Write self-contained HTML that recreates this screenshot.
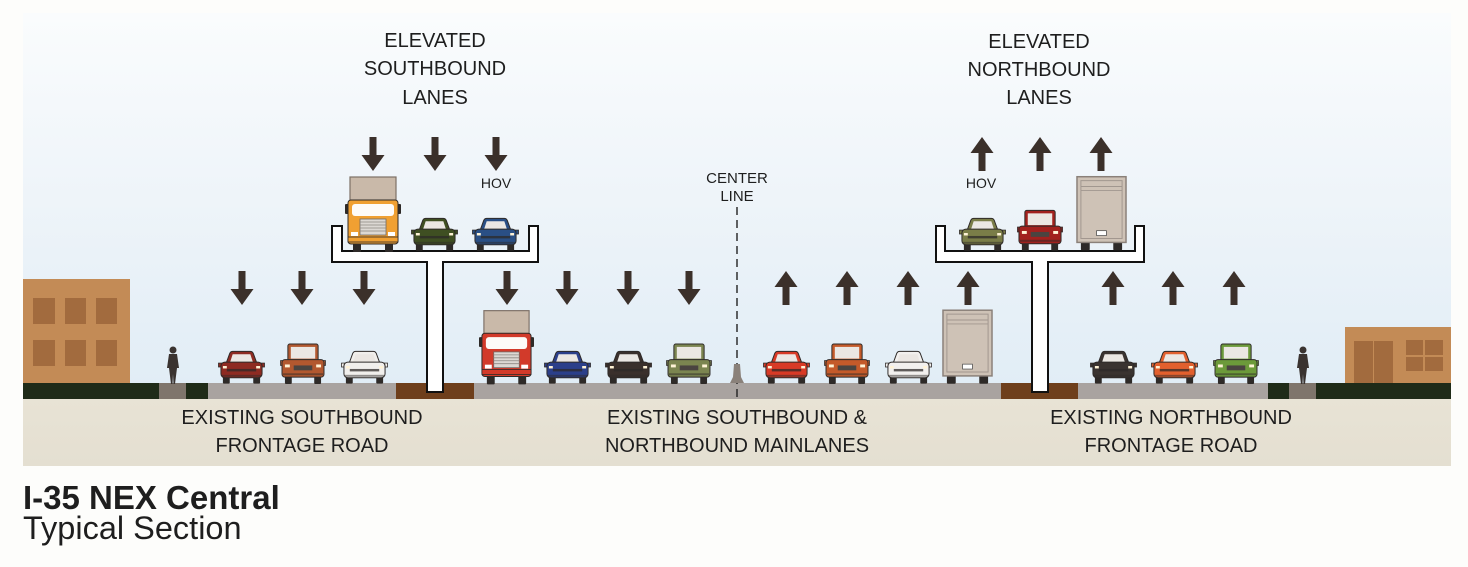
<!DOCTYPE html>
<html><head><meta charset="utf-8"><style>
html,body{margin:0;padding:0;background:#fdfdfb;}
svg{display:block;}
text{font-family:"Liberation Sans",Arial,sans-serif;fill:#1e1e1e;}
</style></head><body>
<svg width="1468" height="567" viewBox="0 0 1468 567" xmlns="http://www.w3.org/2000/svg">
<defs>
<linearGradient id="sky" x1="0" y1="0" x2="0" y2="1">
<stop offset="0" stop-color="#fafcfd"/>
<stop offset="0.5" stop-color="#eef4f9"/>
<stop offset="1" stop-color="#e1edf6"/>
</linearGradient>
<linearGradient id="earth" x1="0" y1="0" x2="0" y2="1">
<stop offset="0" stop-color="#e8e3d5"/>
<stop offset="1" stop-color="#e4dfd1"/>
</linearGradient>
<symbol id="car" viewBox="0 0 48 34">
<rect x="5" y="25" width="7" height="9" rx="1" fill="#2e2a28"/>
<rect x="36" y="25" width="7" height="9" rx="1" fill="#2e2a28"/>
<path d="M8 14 L12 3 Q13 1 15 1 L33 1 Q35 1 36 3 L40 14 Z" fill="currentColor" stroke="#2e2a28" stroke-width="1"/>
<path d="M12 13 L15 4 L33 4 L36 13 Z" fill="#ebe7e3"/>
<rect x="0.5" y="13" width="5" height="4" fill="currentColor" stroke="#2e2a28" stroke-width=".8"/>
<rect x="42.5" y="13" width="5" height="4" fill="currentColor" stroke="#2e2a28" stroke-width=".8"/>
<rect x="3" y="12" width="42" height="16" rx="4" fill="currentColor" stroke="#2e2a28" stroke-width="1"/>
<rect x="9" y="19" width="30" height="2.5" fill="#2e2a28" opacity=".75"/>
<rect x="5" y="16" width="4" height="2.5" fill="#fff3d6"/>
<rect x="39" y="16" width="4" height="2.5" fill="#fff3d6"/>
<rect x="4" y="25" width="40" height="2" fill="#2e2a28" opacity=".5"/>
</symbol>
<symbol id="pickup" viewBox="0 0 47 42">
<rect x="5" y="33" width="7" height="9" rx="1" fill="#2e2a28"/>
<rect x="35" y="33" width="7" height="9" rx="1" fill="#2e2a28"/>
<rect x="8" y="1" width="31" height="18" rx="2" fill="currentColor" stroke="#2e2a28" stroke-width="1"/>
<rect x="11" y="4" width="25" height="12" fill="#ebe7e3"/>
<rect x="0.5" y="18" width="4" height="5" fill="currentColor" stroke="#2e2a28" stroke-width=".8"/>
<rect x="42.5" y="18" width="4" height="5" fill="currentColor" stroke="#2e2a28" stroke-width=".8"/>
<rect x="2" y="17" width="43" height="18" rx="3" fill="currentColor" stroke="#2e2a28" stroke-width="1"/>
<rect x="14" y="23" width="19" height="5" fill="#4a4440"/>
<rect x="5" y="22" width="5" height="3" fill="#fff3d6"/>
<rect x="37" y="22" width="5" height="3" fill="#fff3d6"/>
<rect x="3" y="31" width="41" height="2" fill="#2e2a28" opacity=".5"/>
</symbol>
<symbol id="truck" viewBox="0 0 56 76">
<rect x="8" y="67" width="8" height="9" rx="1" fill="#2e2a28"/>
<rect x="40" y="67" width="8" height="9" rx="1" fill="#2e2a28"/>
<rect x="5" y="1" width="46" height="26" fill="#c9b9a9" stroke="#7d7066" stroke-width="1.2"/>
<rect x="0" y="28" width="4" height="10" rx="1" fill="#2e2a28"/>
<rect x="52" y="28" width="4" height="10" rx="1" fill="#2e2a28"/>
<rect x="3" y="24" width="50" height="44" rx="3" fill="currentColor" stroke="#2e2a28" stroke-width="1"/>
<rect x="7" y="28" width="42" height="12" rx="3" fill="#fdfbf8"/>
<rect x="15" y="43" width="26" height="16" fill="#dcd8d3" stroke="#6f6a66" stroke-width=".8"/>
<path d="M15 46 H41 M15 49 H41 M15 52 H41 M15 55 H41" stroke="#8d8883" stroke-width=".8"/>
<rect x="6" y="56" width="7" height="4" fill="#fff"/>
<rect x="43" y="56" width="7" height="4" fill="#fff"/>
<rect x="3" y="61" width="50" height="5" fill="currentColor" stroke="#2e2a28" stroke-width=".8"/>
</symbol>
<symbol id="box" viewBox="0 0 52 76">
<rect x="5" y="67" width="9" height="9" rx="1" fill="#2e2a28"/>
<rect x="38" y="67" width="9" height="9" rx="1" fill="#2e2a28"/>
<rect x="1" y="1" width="50" height="67" fill="#cec2b6" stroke="#8a8079" stroke-width="1.5"/>
<rect x="5" y="5" width="42" height="59" fill="none" stroke="#a1978f" stroke-width="1"/>
<path d="M5 11 H47 M5 15 H47" stroke="#a1978f" stroke-width="1"/>
<rect x="21" y="56" width="10" height="5" fill="#fff" stroke="#555" stroke-width=".8"/>
</symbol>
<symbol id="ped" viewBox="0 0 14 38">
<circle cx="7" cy="4" r="3.5" fill="#3a3330"/>
<path d="M3 8 H11 L13 22 H11 L10 30 L9 38 H7.5 L7 28 L6.5 38 H5 L4 30 L3 22 H1 Z" fill="#3a3330"/>
</symbol>
<symbol id="adown" viewBox="0 0 24 34">
<rect x="8.5" y="0" width="7" height="20" fill="#3b302a"/>
<path d="M0.5 18 H23.5 L12 34 Z" fill="#3b302a"/>
</symbol>
<symbol id="aup" viewBox="0 0 24 34">
<rect x="8.5" y="14" width="7" height="20" fill="#3b302a"/>
<path d="M0.5 16 H23.5 L12 0 Z" fill="#3b302a"/>
</symbol>
</defs>

<!-- panel -->
<rect x="23" y="13" width="1428" height="372" fill="url(#sky)"/>
<rect x="23" y="399" width="1428" height="67" fill="url(#earth)"/>

<!-- buildings -->
<rect x="23" y="279" width="107" height="105" fill="#c38b56"/>
<g fill="#a26b3e">
<rect x="33" y="298" width="22" height="26"/><rect x="65" y="298" width="21" height="26"/><rect x="96" y="298" width="21" height="26"/>
<rect x="33" y="340" width="22" height="26"/><rect x="65" y="340" width="21" height="26"/><rect x="96" y="340" width="21" height="26"/>
</g>
<rect x="1345" y="327" width="106" height="57" fill="#c38b56"/>
<g fill="#a26b3e">
<rect x="1354" y="341" width="19" height="43"/><rect x="1374" y="341" width="19" height="43"/>
<rect x="1406" y="340" width="17" height="15"/><rect x="1425" y="340" width="18" height="15"/>
<rect x="1406" y="357" width="17" height="14"/><rect x="1425" y="357" width="18" height="14"/>
</g>

<!-- ground strip -->
<rect x="23" y="383" width="1428" height="16" fill="#a9a3a0"/>
<rect x="23" y="383" width="136" height="16" fill="#1f2b18"/>
<rect x="159" y="383" width="27" height="16" fill="#7f756c"/>
<rect x="186" y="383" width="22" height="16" fill="#1f2b18"/>
<rect x="396" y="383" width="78" height="16" fill="#6e3f1c"/>
<rect x="1001" y="383" width="77" height="16" fill="#6e3f1c"/>
<rect x="1268" y="383" width="21" height="16" fill="#1f2b18"/>
<rect x="1289" y="383" width="27" height="16" fill="#7f756c"/>
<rect x="1316" y="383" width="135" height="16" fill="#1f2b18"/>

<!-- center line -->
<line x1="737" y1="207" x2="737" y2="400" stroke="#222" stroke-width="1.4" stroke-dasharray="8,5"/>
<path d="M730 383 L733 377 L734 364 H740 L741 377 L744 383 Z" fill="#8a817a"/>

<!-- decks -->
<path d="M332 226 H342 V251 H529 V226 H538 V262 H443 V392 H427 V262 H332 Z" fill="#fff" stroke="#111" stroke-width="2"/>
<path d="M936 226 H945 V251 H1135 V226 H1144 V262 H1048 V392 H1032 V262 H936 Z" fill="#fff" stroke="#111" stroke-width="2"/>

<!-- arrows -->
<g>
<use href="#adown" x="361" y="137" width="24" height="34"/>
<use href="#adown" x="423" y="137" width="24" height="34"/>
<use href="#adown" x="484" y="137" width="24" height="34"/>
<use href="#aup" x="970" y="137" width="24" height="34"/>
<use href="#aup" x="1028" y="137" width="24" height="34"/>
<use href="#aup" x="1089" y="137" width="24" height="34"/>
<use href="#adown" x="230" y="271" width="24" height="34"/>
<use href="#adown" x="290" y="271" width="24" height="34"/>
<use href="#adown" x="352" y="271" width="24" height="34"/>
<use href="#adown" x="495" y="271" width="24" height="34"/>
<use href="#adown" x="555" y="271" width="24" height="34"/>
<use href="#adown" x="616" y="271" width="24" height="34"/>
<use href="#adown" x="677" y="271" width="24" height="34"/>
<use href="#aup" x="774" y="271" width="24" height="34"/>
<use href="#aup" x="835" y="271" width="24" height="34"/>
<use href="#aup" x="896" y="271" width="24" height="34"/>
<use href="#aup" x="956" y="271" width="24" height="34"/>
<use href="#aup" x="1101" y="271" width="24" height="34"/>
<use href="#aup" x="1161" y="271" width="24" height="34"/>
<use href="#aup" x="1222" y="271" width="24" height="34"/>
</g>

<!-- vehicles elevated -->
<use href="#truck" x="345" y="176" width="56" height="76" style="color:#f0a032"/>
<use href="#car" x="411" y="217" width="47" height="34" style="color:#3f4f22"/>
<use href="#car" x="472" y="217" width="47" height="34" style="color:#2a4f85"/>
<use href="#car" x="959" y="217" width="47" height="34" style="color:#7a7d48"/>
<use href="#pickup" x="1017" y="209" width="46" height="42" style="color:#a2211e"/>
<use href="#box" x="1076" y="175" width="51" height="76"/>

<!-- vehicles ground -->
<use href="#car" x="218" y="350" width="47" height="34" style="color:#8e2b22"/>
<use href="#pickup" x="280" y="343" width="46" height="41" style="color:#b2582f"/>
<use href="#car" x="341" y="350" width="47" height="34" style="color:#f1efec"/>
<use href="#truck" x="479" y="309" width="55" height="76" style="color:#d23a2a"/>
<use href="#car" x="544" y="350" width="47" height="34" style="color:#2b3f8a"/>
<use href="#car" x="605" y="350" width="47" height="34" style="color:#3a302c"/>
<use href="#pickup" x="666" y="343" width="46" height="41" style="color:#7b8550"/>
<use href="#car" x="763" y="350" width="47" height="34" style="color:#d83a26"/>
<use href="#pickup" x="824" y="343" width="46" height="41" style="color:#c45a2a"/>
<use href="#car" x="885" y="350" width="47" height="34" style="color:#f2f0ee"/>
<use href="#box" x="942" y="309" width="51" height="75"/>
<use href="#car" x="1090" y="350" width="47" height="34" style="color:#3a3330"/>
<use href="#car" x="1151" y="350" width="47" height="34" style="color:#e2602e"/>
<use href="#pickup" x="1213" y="343" width="46" height="41" style="color:#6c9a3a"/>

<!-- pedestrians -->
<use href="#ped" x="166" y="346" width="14" height="38"/>
<use href="#ped" x="1296" y="346" width="14" height="38"/>

<!-- labels -->
<g font-size="20" text-anchor="middle">
<text x="435" y="47">ELEVATED</text>
<text x="435" y="75">SOUTHBOUND</text>
<text x="435" y="104">LANES</text>
<text x="1039" y="48">ELEVATED</text>
<text x="1039" y="76">NORTHBOUND</text>
<text x="1039" y="104">LANES</text>
<text x="302" y="424">EXISTING SOUTHBOUND</text>
<text x="302" y="452">FRONTAGE ROAD</text>
<text x="737" y="424">EXISTING SOUTHBOUND &amp;</text>
<text x="737" y="452">NORTHBOUND MAINLANES</text>
<text x="1171" y="424">EXISTING NORTHBOUND</text>
<text x="1171" y="452">FRONTAGE ROAD</text>
</g>
<g font-size="14" text-anchor="middle">
<text x="496" y="188">HOV</text>
<text x="981" y="188">HOV</text>
<text x="737" y="183" font-size="15">CENTER</text>
<text x="737" y="201" font-size="15">LINE</text>
</g>
<text x="23" y="509" font-size="33" font-weight="bold" fill="#111">I-35 NEX Central</text>
<text x="23" y="539" font-size="32.5" fill="#111">Typical Section</text>
</svg>
</body></html>
